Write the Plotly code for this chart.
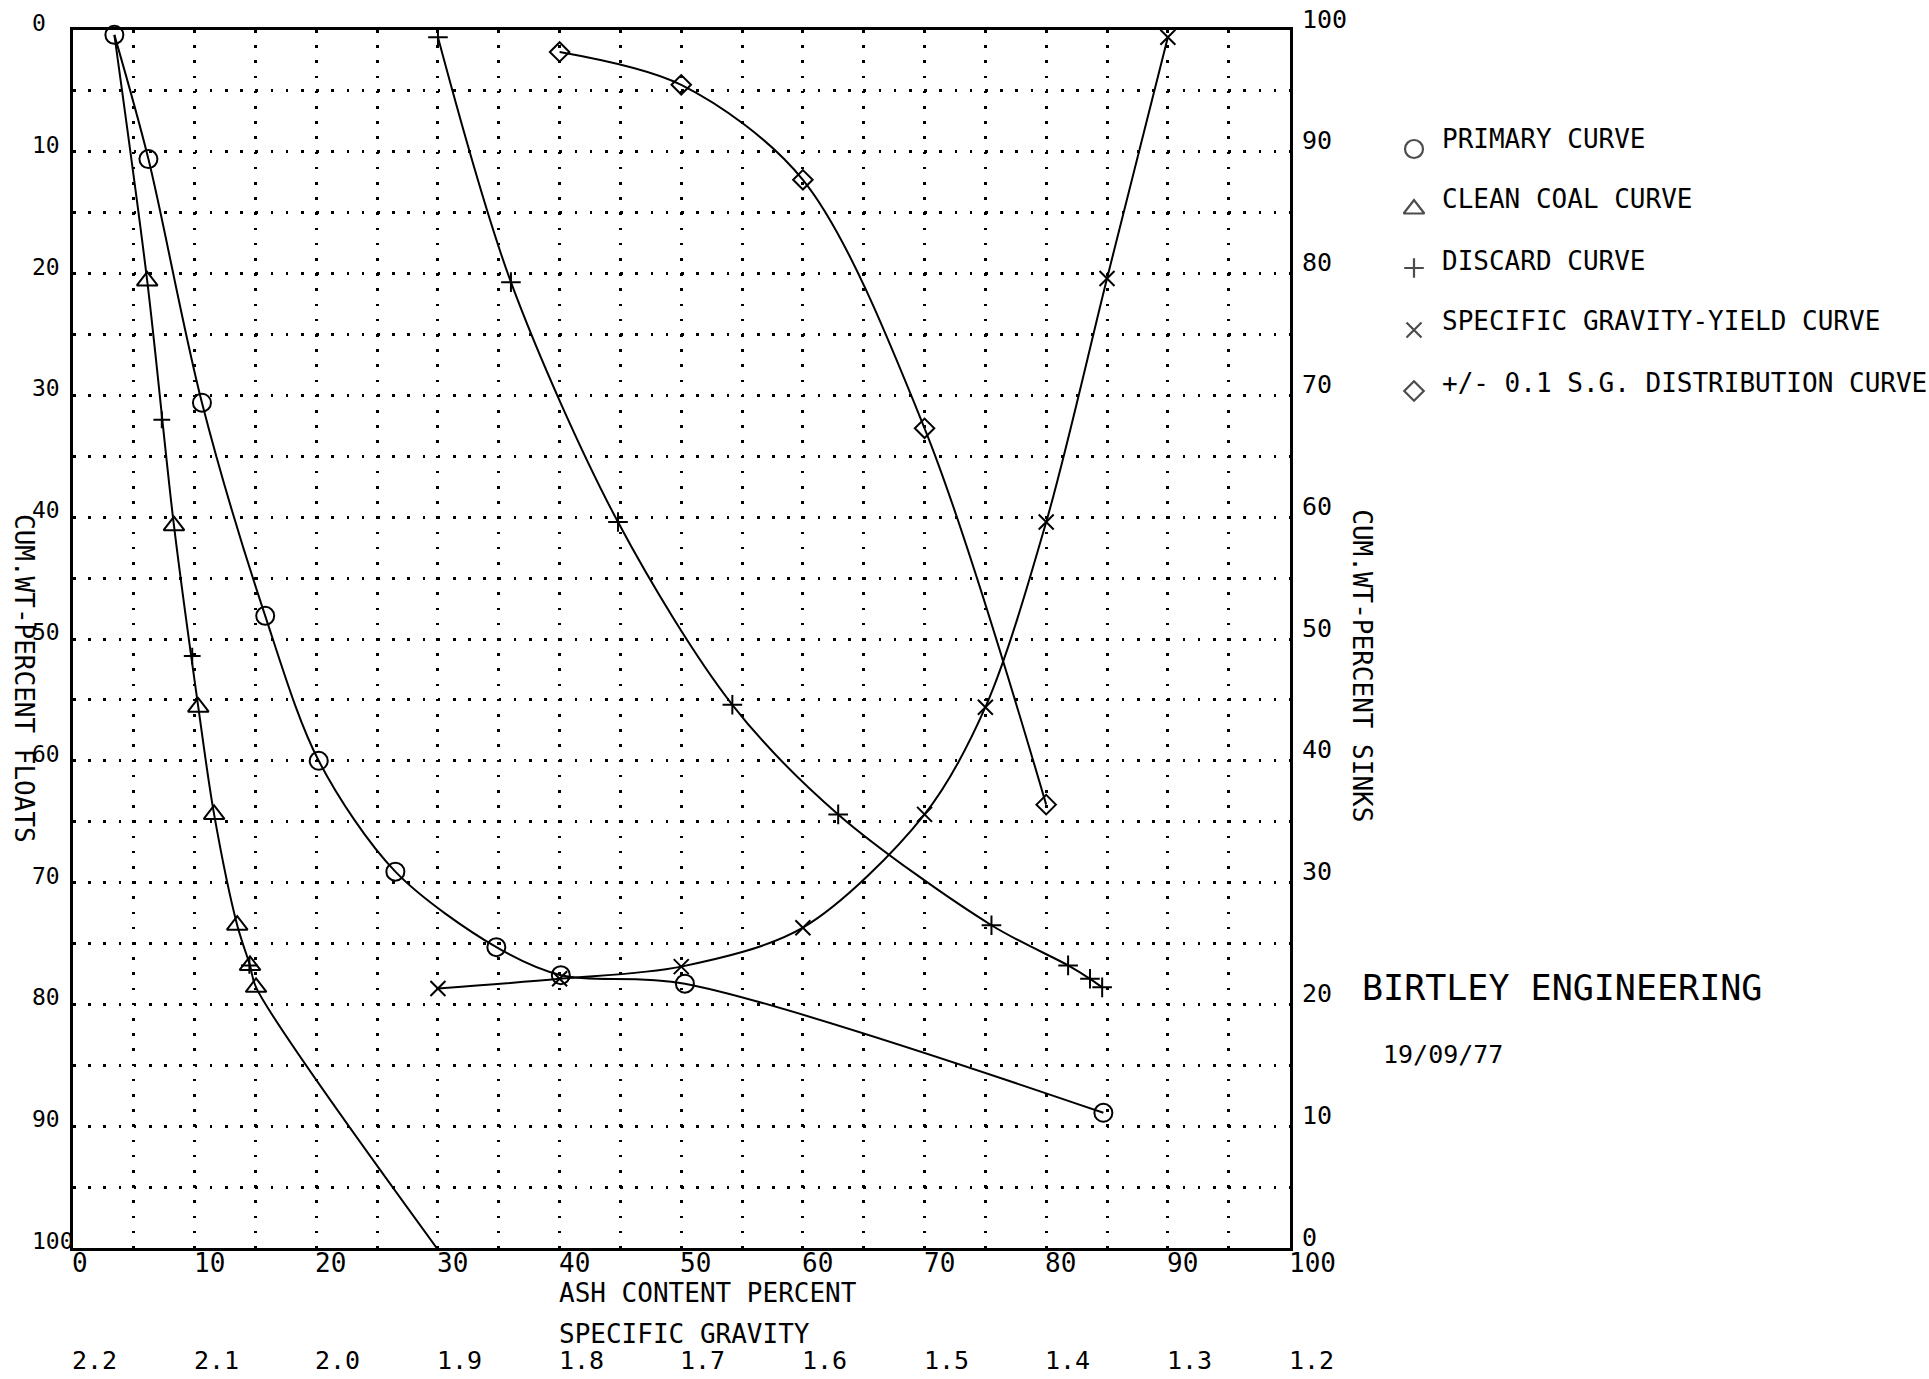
import plotly.graph_objects as go

# ---- washability data -------------------------------------------------------
# Primary curve: ash % of each increment vs cumulative weight % floats
primary_ash = [3.4, 6.2, 10.6, 15.8, 20.2, 26.5, 34.8, 40.1, 50.3, 84.7]
primary_floats = [0.4, 10.6, 30.6, 48.1, 60.0, 69.1, 75.3, 77.6, 78.3, 88.9]

# Clean coal curve: cumulative ash of floats vs cumulative weight % floats
clean_ash = [3.4, 6.1, 8.3, 10.3, 11.6, 13.5, 14.55, 15.05, 29.9]
clean_floats = [0.4, 20.6, 40.7, 55.6, 64.4, 73.5, 76.8, 78.6, 100.0]
# pen marks along the clean coal curve
clean_tick_ash = [7.3, 9.8, 14.5]
clean_tick_floats = [32.0, 51.4, 76.8]

# Discard curve: cumulative ash of sinks vs cumulative weight % sinks
discard_ash = [30.0, 36.0, 44.8, 54.2, 62.9, 75.5, 81.8, 83.6, 84.6]
discard_sinks = [99.4, 79.3, 59.6, 44.6, 35.6, 26.5, 23.2, 22.1, 21.4]

# Specific gravity - yield curve: separation density vs cumulative floats
sgy_density = [1.9, 1.8, 1.7, 1.6, 1.5, 1.45, 1.4, 1.35, 1.3]
sgy_floats = [78.7, 77.9, 76.9, 73.7, 64.4, 55.6, 40.4, 20.4, 0.6]

# +/- 0.1 S.G. distribution curve
dist_density = [1.8, 1.7, 1.6, 1.5, 1.4]
dist_percent = [1.8, 4.5, 12.3, 32.7, 63.6]

# ---- axis labels ------------------------------------------------------------
ash_ticks = [0, 10, 20, 30, 40, 50, 60, 70, 80, 90, 100]
floats_ticks = [0, 10, 20, 30, 40, 50, 60, 70, 80, 90, 100]
sinks_ticks = [100, 90, 80, 70, 60, 50, 40, 30, 20, 10, 0]
sg_ticks = [2.2, 2.1, 2.0, 1.9, 1.8, 1.7, 1.6, 1.5, 1.4, 1.3, 1.2]
sg_tick_text = ["2.2", "2.1", "2.0", "1.9", "1.8", "1.7", "1.6", "1.5", "1.4", "1.3", "1.2"]

legend_names = [
    "PRIMARY CURVE",
    "CLEAN COAL CURVE",
    "DISCARD CURVE",
    "SPECIFIC GRAVITY-YIELD CURVE",
    "+/- 0.1 S.G. DISTRIBUTION CURVE",
]

# ---- page geometry & styling ------------------------------------------------
FONT = "DejaVu Sans Mono"
INK = "black"
W, H = 1929, 1379
ML, MR, MT, MB = 73, 20, 30, 131
PLOT_W = 1216.5                       # width of the chart frame in px
PAPER_W = W - ML - MR
FRAME_RIGHT = PLOT_W / PAPER_W        # right edge of the frame (paper fraction)

# legend block lives in its own pixel-scaled panel right of the frame
KEY_PANEL = [ML + PLOT_W, W - MR]     # px range of that panel
KEY_X = 1414                          # symbol column (px)
KEY_Y = [149, 209, 268, 330, 391]     # symbol rows (px from top)
TEXT_Y = [139, 199, 261, 321, 383]    # text rows (px from top)
TEXT_X = 1442

SYM = {
    "primary": dict(symbol="circle-open", size=18),
    "clean": dict(symbol="triangle-up-open", size=18),
    "discard": dict(symbol="cross-thin-open", size=14),
    "sgy": dict(symbol="x-thin-open", size=15),
    "dist": dict(symbol="diamond-open", size=15),
}

fig = go.Figure()


def add_curve(x, y, xaxis, yaxis, key, marker_slice=slice(None)):
    fig.add_trace(go.Scatter(
        x=x, y=y, xaxis=xaxis, yaxis=yaxis, mode="lines",
        line=dict(color=INK, width=2, shape="spline", smoothing=0.9),
        hoverinfo="skip", showlegend=False,
    ))
    fig.add_trace(go.Scatter(
        x=x[marker_slice], y=y[marker_slice], xaxis=xaxis, yaxis=yaxis,
        mode="markers", cliponaxis=False,
        marker=dict(color=INK, line=dict(color=INK, width=2), **SYM[key]),
        hoverinfo="skip", showlegend=False,
    ))


add_curve(primary_ash, primary_floats, "x", "y", "primary")
add_curve(clean_ash, clean_floats, "x", "y", "clean", slice(1, -1))
add_curve(discard_ash, discard_sinks, "x", "y2", "discard")
add_curve(sgy_density, sgy_floats, "x2", "y", "sgy")
add_curve(dist_density, dist_percent, "x2", "y", "dist")

fig.add_trace(go.Scatter(
    x=clean_tick_ash, y=clean_tick_floats, xaxis="x", yaxis="y",
    mode="markers", cliponaxis=False,
    marker=dict(symbol="cross-thin-open", size=12, color=INK,
                line=dict(color=INK, width=2)),
    hoverinfo="skip", showlegend=False,
))

# legend key symbols
legend_keys = ["primary", "clean", "discard", "sgy", "dist"]
fig.add_trace(go.Scatter(
    x=[KEY_X] * len(legend_keys), y=KEY_Y,
    xaxis="x3", yaxis="y3", mode="markers", cliponaxis=False,
    marker=dict(
        symbol=[SYM[k]["symbol"] for k in legend_keys],
        size=[SYM[k]["size"] for k in legend_keys],
        color=INK, line=dict(color=INK, width=2.2),
    ),
    hoverinfo="skip", showlegend=False,
))

annotations = []


def note(text, size, **kw):
    annotations.append(dict(text=text, showarrow=False,
                            font=dict(family=FONT, size=size, color=INK), **kw))


# left scale: cumulative weight % floats
for v in floats_ticks:
    note(str(v), 23, xref="x domain", x=0, xshift=-43, xanchor="left",
         yref="y", y=v, yshift=7, yanchor="middle")

# right scale: cumulative weight % sinks
for v in sinks_ticks:
    note(str(v), 25, xref="x domain", x=1, xshift=10, xanchor="left",
         yref="y2", y=v, yshift=11, yanchor="middle")

# ash content scale
for v in ash_ticks:
    note(str(v), 26, xref="x", x=v, xshift=-3, xanchor="left",
         yref="paper", y=0, yshift=-15, yanchor="middle")

# specific gravity scale
for v, t in zip(sg_ticks, sg_tick_text):
    note(t, 25, xref="x2", x=v, xshift=-3, xanchor="left",
         yref="paper", y=0, yshift=-112, yanchor="middle")

note("ASH CONTENT PERCENT", 26, xref="x", x=40, xshift=-3, xanchor="left",
     yref="paper", y=0, yshift=-45, yanchor="middle")
note("SPECIFIC GRAVITY", 26, xref="x", x=40, xshift=-3, xanchor="left",
     yref="paper", y=0, yshift=-86, yanchor="middle")

note("CUM.WT-PERCENT FLOATS", 26, textangle=90,
     xref="x domain", x=0, xshift=-49, xanchor="center",
     yref="paper", y=0.468, yanchor="middle")
note("CUM.WT-PERCENT SINKS", 26, textangle=90,
     xref="x domain", x=1, xshift=73, xanchor="center",
     yref="paper", y=0.478, yanchor="middle")

for name, ty in zip(legend_names, TEXT_Y):
    note(name, 26, xref="x3", x=TEXT_X, xshift=-2, xanchor="left",
         yref="y3", y=ty, yanchor="middle")

note("BIRTLEY ENGINEERING", 35, xref="x3", x=1362, xshift=-2, xanchor="left",
     yref="y3", y=988, yanchor="middle")
note("19/09/77", 25, xref="x3", x=1383, xshift=-2, xanchor="left",
     yref="y3", y=1054, yanchor="middle")

grid = dict(showgrid=True, gridcolor=INK, gridwidth=2.6,
            griddash="2.6px,12.6px", dtick=5, tick0=0)
frame = dict(showline=True, linecolor=INK, linewidth=3, mirror=True,
             zeroline=False, showticklabels=False, ticks="")
hidden = dict(visible=False, showgrid=False, zeroline=False)

fig.update_layout(
    width=W, height=H,
    margin=dict(l=ML, r=MR, t=MT, b=MB, pad=0),
    paper_bgcolor="white", plot_bgcolor="white",
    showlegend=False,
    xaxis=dict(range=[0, 100], domain=[0, FRAME_RIGHT], anchor="y",
               **grid, **frame),
    xaxis2=dict(range=[2.2, 1.2], overlaying="x", anchor="y", **hidden),
    yaxis=dict(range=[100, 0], domain=[0, 1], anchor="x", **grid, **frame),
    yaxis2=dict(range=[0, 100], overlaying="y", side="right", anchor="x",
                showgrid=False, zeroline=False, showticklabels=False,
                ticks=""),
    xaxis3=dict(range=KEY_PANEL, domain=[FRAME_RIGHT, 1], anchor="y3",
                **hidden),
    yaxis3=dict(range=[H - MB, MT], domain=[0, 1], anchor="x3", **hidden),
    annotations=annotations,
)

fig.write_html("out.html")
